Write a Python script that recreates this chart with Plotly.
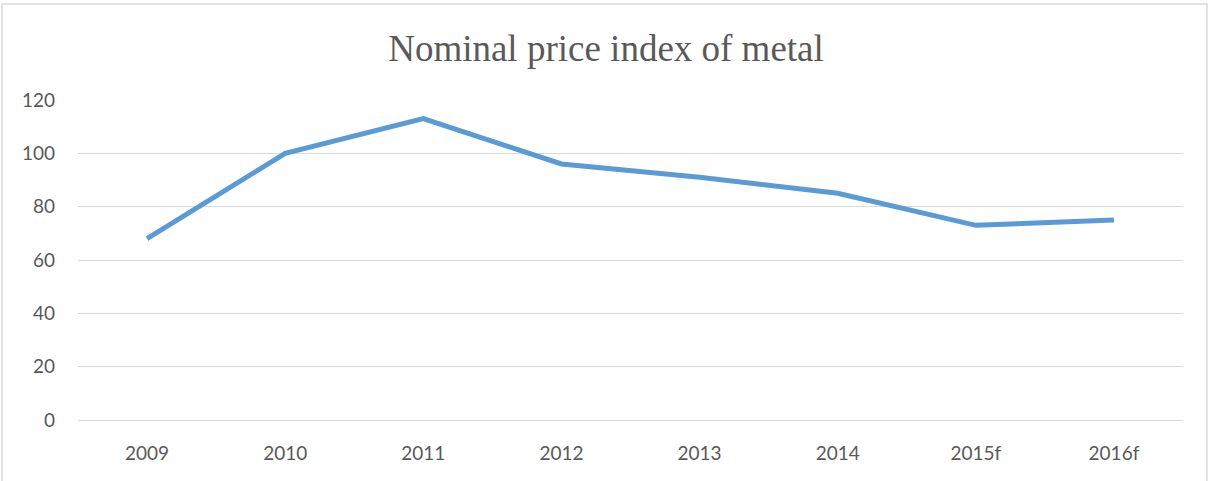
import plotly.graph_objs as go

years = ['2009', '2010', '2011', '2012', '2013', '2014', '2015f', '2016f']
price_index = [68, 100, 113, 96, 91, 85, 73, 75]
y_ticks = [0, 20, 40, 60, 80, 100, 120]

W, H = 1212, 481
L, R, T, B = 78, 29, 100, 61
pw, ph = W - L - R, H - T - B

fig = go.Figure(
    go.Scatter(
        x=years, y=price_index,
        mode='lines',
        line=dict(color='#5B9BD5', width=5, shape='linear'),
        hoverinfo='x+y'
    )
)

# outer chart border (like the office chart frame)
fig.add_shape(
    type='rect', xref='paper', yref='paper',
    x0=(2 - L) / pw, x1=(1207 - L) / pw,
    y0=-(H + 5 - (H - B)) / ph, y1=(H - B - 4) / ph,
    line=dict(color='#d9d9d9', width=1.5), fillcolor='rgba(0,0,0,0)',
    layer='below'
)

fig.update_layout(
    width=W, height=H,
    margin=dict(l=L, r=R, t=T, b=B),
    paper_bgcolor='white', plot_bgcolor='white',
    showlegend=False,
    title=dict(
        text='Nominal price index of metal',
        font=dict(family='Liberation Serif', size=37, color='#595959'),
        x=0.5, xref='container', xanchor='center',
        y=1 - 48 / H, yref='container', yanchor='middle'
    ),
    xaxis=dict(
        type='category', range=[-0.5, 7.5],
        showgrid=False, zeroline=False,
        showline=False, ticks='',
        tickfont=dict(family='Lato', size=19, color='#595959'),
        ticklabelstandoff=20
    ),
    yaxis=dict(
        range=[0, 120], tickvals=y_ticks,
        showgrid=True, gridcolor='#d9d9d9', gridwidth=1.3,
        zeroline=True, zerolinecolor='#d9d9d9', zerolinewidth=1.3,
        showline=False, ticks='',
        tickfont=dict(family='Lato', size=19, color='#595959'),
        ticklabelstandoff=22
    )
)

fig.write_html("out.html", config={'displayModeBar': False},
               post_script="document.body.style.margin='0';")
